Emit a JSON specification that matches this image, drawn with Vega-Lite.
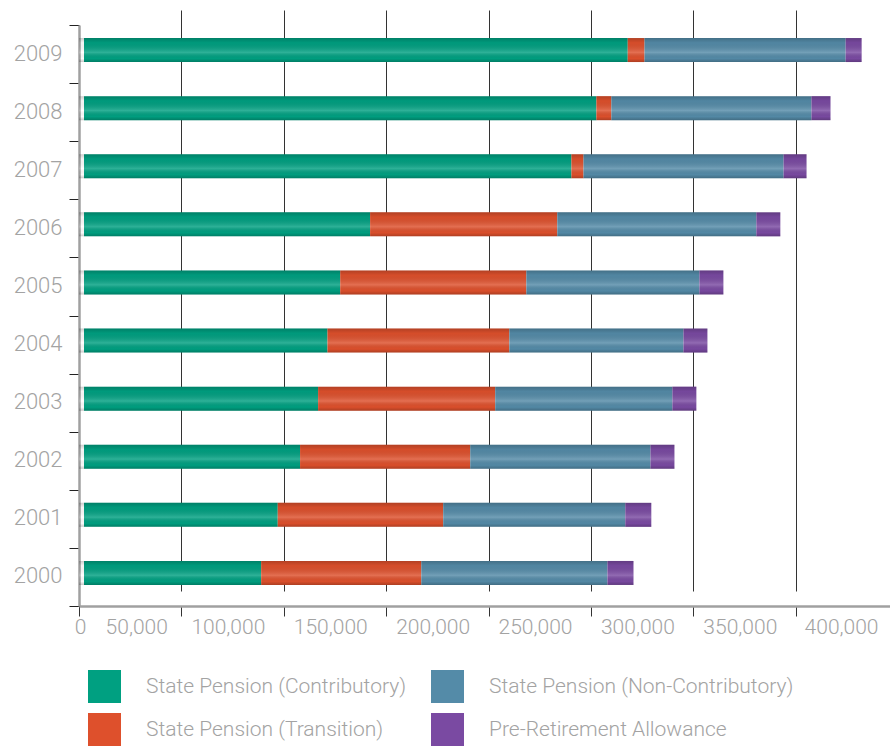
{
  "$schema": "https://vega.github.io/schema/vega-lite/v6.json",
  "width": 811,
  "height": 596,
  "autosize": {"type": "none"},
  "padding": {"left": 79, "top": 10, "right": 0, "bottom": 140},
  "background": "white",
  "config": {"view": {"stroke": null}},
  "data": {
    "values": [
      {"year": "2009", "series": "State Pension (Contributory)", "value": 265500},
      {"year": "2009", "series": "State Pension (Transition)", "value": 8200},
      {"year": "2009", "series": "State Pension (Non-Contributory)", "value": 98200},
      {"year": "2009", "series": "Pre-Retirement Allowance", "value": 7800},
      {"year": "2008", "series": "State Pension (Contributory)", "value": 250200},
      {"year": "2008", "series": "State Pension (Transition)", "value": 7300},
      {"year": "2008", "series": "State Pension (Non-Contributory)", "value": 97700},
      {"year": "2008", "series": "Pre-Retirement Allowance", "value": 9300},
      {"year": "2007", "series": "State Pension (Contributory)", "value": 238000},
      {"year": "2007", "series": "State Pension (Transition)", "value": 5900},
      {"year": "2007", "series": "State Pension (Non-Contributory)", "value": 97700},
      {"year": "2007", "series": "Pre-Retirement Allowance", "value": 11200},
      {"year": "2006", "series": "State Pension (Contributory)", "value": 139700},
      {"year": "2006", "series": "State Pension (Transition)", "value": 91400},
      {"year": "2006", "series": "State Pension (Non-Contributory)", "value": 97200},
      {"year": "2006", "series": "Pre-Retirement Allowance", "value": 11700},
      {"year": "2005", "series": "State Pension (Contributory)", "value": 125100},
      {"year": "2005", "series": "State Pension (Transition)", "value": 90900},
      {"year": "2005", "series": "State Pension (Non-Contributory)", "value": 84500},
      {"year": "2005", "series": "Pre-Retirement Allowance", "value": 11700},
      {"year": "2004", "series": "State Pension (Contributory)", "value": 118900},
      {"year": "2004", "series": "State Pension (Transition)", "value": 88800},
      {"year": "2004", "series": "State Pension (Non-Contributory)", "value": 85000},
      {"year": "2004", "series": "Pre-Retirement Allowance", "value": 11700},
      {"year": "2003", "series": "State Pension (Contributory)", "value": 114300},
      {"year": "2003", "series": "State Pension (Transition)", "value": 86500},
      {"year": "2003", "series": "State Pension (Non-Contributory)", "value": 86500},
      {"year": "2003", "series": "Pre-Retirement Allowance", "value": 11700},
      {"year": "2002", "series": "State Pension (Contributory)", "value": 105500},
      {"year": "2002", "series": "State Pension (Transition)", "value": 83100},
      {"year": "2002", "series": "State Pension (Non-Contributory)", "value": 88000},
      {"year": "2002", "series": "Pre-Retirement Allowance", "value": 11700},
      {"year": "2001", "series": "State Pension (Contributory)", "value": 94600},
      {"year": "2001", "series": "State Pension (Transition)", "value": 80800},
      {"year": "2001", "series": "State Pension (Non-Contributory)", "value": 88900},
      {"year": "2001", "series": "Pre-Retirement Allowance", "value": 12700},
      {"year": "2000", "series": "State Pension (Contributory)", "value": 86500},
      {"year": "2000", "series": "State Pension (Transition)", "value": 78200},
      {"year": "2000", "series": "State Pension (Non-Contributory)", "value": 90900},
      {"year": "2000", "series": "Pre-Retirement Allowance", "value": 12700}
    ]
  },
  "transform": [
    {"calculate": "indexof(['State Pension (Contributory)','State Pension (Transition)','State Pension (Non-Contributory)','Pre-Retirement Allowance'], datum.series)", "as": "k"}
  ],
  "encoding": {
    "y": {
      "field": "year",
      "type": "ordinal",
      "sort": "descending",
      "scale": {"range": [15, 596], "paddingInner": 0, "paddingOuter": 0},
      "axis": {
        "title": null,
        "tickBand": "extent",
        "tickSize": 10,
        "tickColor": "#222222",
        "tickWidth": 1,
        "domainColor": "#a0a0a0",
        "domainWidth": 2.5,
        "labelFont": "Roboto",
        "labelFontWeight": 300,
        "labelFontSize": 22,
        "labelColor": "#a3a3a3",
        "labelPadding": 7,
        "labelOffset": -1,
        "grid": false
      }
    }
  },
  "layer": [
    {
      "mark": {"type": "bar", "height": {"band": 0.413}, "xOffset": 5, "x2Offset": 5, "yOffset": -4, "y2Offset": -4},
      "encoding": {
        "x": {
          "aggregate": "sum",
          "field": "value",
          "type": "quantitative",
          "scale": {"domain": [0, 396000], "nice": false, "zero": true},
          "axis": {
            "title": null,
            "values": [0, 50000, 100000, 150000, 200000, 250000, 300000, 350000, 396000],
            "format": ",d",
            "labelExpr": "datum.value > 390000 ? '400,000' : datum.label",
            "labelFont": "Roboto",
            "labelFontWeight": 300,
            "labelFontSize": 21,
            "labelColor": "#a3a3a3",
            "labelAlign": {"condition": {"test": "datum.value == 0", "value": "center"}, "value": "right"},
            "labelOffset": {"condition": [
              {"test": "datum.value == 0", "value": 1},
              {"test": "datum.value == 50000", "value": -14},
              {"test": "datum.value > 390000", "value": -12}
            ], "value": -19},
            "labelPadding": 0,
            "labelFlush": false,
            "labelOverlap": false,
            "labelBound": false,
            "tickSize": 10,
            "tickColor": "#333333",
            "tickWidth": 1,
            "domainColor": "#a0a0a0",
            "domainWidth": 2.5,
            "grid": true,
            "gridColor": "#333333",
            "gridWidth": 1,
            "gridOpacity": {"condition": {"test": "datum.value == 0 || datum.value > 390000", "value": 0}, "value": 1}
          }
        },
        "color": {
          "field": "series",
          "type": "nominal",
          "scale": {
            "domain": ["State Pension (Contributory)", "State Pension (Transition)", "State Pension (Non-Contributory)", "Pre-Retirement Allowance"],
            "range": ["#00a081", "#de502c", "#548ba8", "#7a4aa2"]
          },
          "legend": {
            "title": null,
            "orient": "none",
            "legendX": 9,
            "legendY": 660,
            "columns": 2,
            "padding": 0,
            "symbolType": "square",
            "symbolSize": 1089,
            "symbolStrokeWidth": 0,
            "symbolOpacity": 1,
            "labelFont": "Roboto",
            "labelFontWeight": 300,
            "labelFontSize": 21,
            "labelColor": "#a3a3a3",
            "labelOffset": 25,
            "labelLimit": 400,
            "columnPadding": 24,
            "rowPadding": 10
          }
        },
        "order": {"field": "k", "type": "quantitative"}
      }
    },
    {
      "mark": {
        "type": "bar",
        "height": {"band": 0.413},
        "xOffset": 5, "x2Offset": 5, "yOffset": -4, "y2Offset": -4,
        "color": {
          "gradient": "linear",
          "x1": 0, "y1": 0, "x2": 0, "y2": 1,
          "stops": [
            {"offset": 0, "color": "rgba(0,0,0,0.2)"},
            {"offset": 0.2, "color": "rgba(0,0,0,0.04)"},
            {"offset": 0.6, "color": "rgba(255,255,255,0.18)"},
            {"offset": 0.85, "color": "rgba(0,0,0,0.02)"},
            {"offset": 1, "color": "rgba(0,0,0,0.22)"}
          ]
        }
      },
      "encoding": {
        "x": {"aggregate": "sum", "field": "value", "type": "quantitative"}
      }
    }
  ]
}
